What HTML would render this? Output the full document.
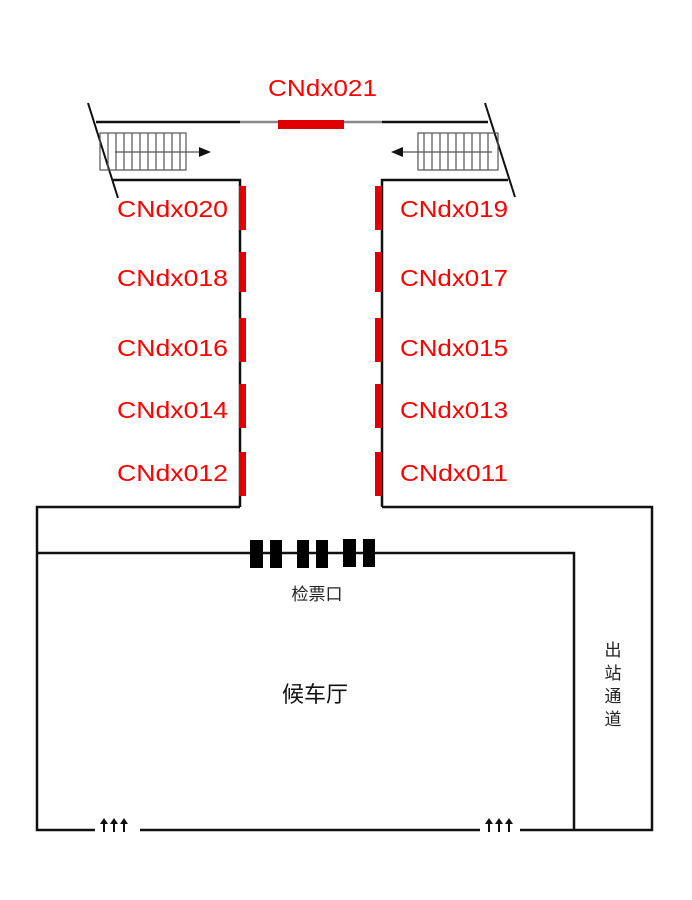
<!DOCTYPE html>
<html><head><meta charset="utf-8"><style>body{margin:0;background:#fff}svg{display:block}</style></head><body>
<svg width="692" height="900" viewBox="0 0 692 900" xmlns="http://www.w3.org/2000/svg" font-family="Liberation Sans, Noto Sans CJK SC, sans-serif">
<g stroke="#111" stroke-width="2.5" fill="none">
<line x1="96" y1="122" x2="240" y2="122"/>
<line x1="240" y1="122" x2="382" y2="122" stroke="#888"/>
<line x1="382" y1="122" x2="488" y2="122"/>
<line x1="88" y1="103" x2="118" y2="198" stroke-width="2"/>
<line x1="485" y1="103" x2="515" y2="197" stroke-width="2"/>
<polyline points="113,180 240,180 240,507"/>
<polyline points="508,180 382,180 382,507"/>
<polyline points="240,507 37,507 37,830 95,830"/>
<polyline points="382,507 652,507 652,830 520,830"/>
<line x1="140" y1="830" x2="480" y2="830"/>
<polyline points="37,553 574,553 574,830"/>
</g>
<g stroke="#555" stroke-width="1.2" fill="none">
<rect x="100" y="133" width="86" height="37"/>
<rect x="418" y="133" width="80" height="37"/>
</g>
<g stroke="#555" stroke-width="1.2">
<line x1="108" y1="133" x2="108" y2="170"/><line x1="116" y1="133" x2="116" y2="170"/><line x1="124" y1="133" x2="124" y2="170"/><line x1="132" y1="133" x2="132" y2="170"/><line x1="140" y1="133" x2="140" y2="170"/><line x1="148" y1="133" x2="148" y2="170"/><line x1="156" y1="133" x2="156" y2="170"/><line x1="164" y1="133" x2="164" y2="170"/><line x1="172" y1="133" x2="172" y2="170"/><line x1="180" y1="133" x2="180" y2="170"/>
<line x1="424" y1="133" x2="424" y2="170"/><line x1="432" y1="133" x2="432" y2="170"/><line x1="440" y1="133" x2="440" y2="170"/><line x1="448" y1="133" x2="448" y2="170"/><line x1="456" y1="133" x2="456" y2="170"/><line x1="464" y1="133" x2="464" y2="170"/><line x1="472" y1="133" x2="472" y2="170"/><line x1="480" y1="133" x2="480" y2="170"/><line x1="488" y1="133" x2="488" y2="170"/>
<line x1="115" y1="152" x2="200" y2="152"/>
<line x1="402" y1="152" x2="492" y2="152"/>
</g>
<polygon points="211,152 199,147 199,157" fill="#111"/>
<polygon points="391,152 403,147 403,157" fill="#111"/>
<g fill="#e00000">
<rect x="278" y="120" width="66" height="9"/>
<rect x="239" y="186" width="7" height="44"/><rect x="239" y="252" width="7" height="40"/><rect x="239" y="318" width="7" height="44"/><rect x="239" y="384" width="7" height="44"/><rect x="239" y="452" width="7" height="44"/>
<rect x="375" y="186" width="7" height="44"/><rect x="375" y="252" width="7" height="40"/><rect x="375" y="318" width="7" height="44"/><rect x="375" y="384" width="7" height="44"/><rect x="375" y="452" width="7" height="44"/>
</g>
<g fill="#ff0000" font-size="23">
<text x="268" y="96" textLength="109" lengthAdjust="spacingAndGlyphs">CNdx021</text>
<text x="117" y="217" textLength="111" lengthAdjust="spacingAndGlyphs">CNdx020</text><text x="117" y="286" textLength="111" lengthAdjust="spacingAndGlyphs">CNdx018</text><text x="117" y="356" textLength="111" lengthAdjust="spacingAndGlyphs">CNdx016</text><text x="117" y="418" textLength="111" lengthAdjust="spacingAndGlyphs">CNdx014</text><text x="117" y="481" textLength="111" lengthAdjust="spacingAndGlyphs">CNdx012</text>
<text x="400" y="217" textLength="108" lengthAdjust="spacingAndGlyphs">CNdx019</text><text x="400" y="286" textLength="108" lengthAdjust="spacingAndGlyphs">CNdx017</text><text x="400" y="356" textLength="108" lengthAdjust="spacingAndGlyphs">CNdx015</text><text x="400" y="418" textLength="108" lengthAdjust="spacingAndGlyphs">CNdx013</text><text x="400" y="481" textLength="108" lengthAdjust="spacingAndGlyphs">CNdx011</text>
</g>
<g fill="#000">
<rect x="250" y="540" width="13" height="28"/><rect x="270" y="540" width="12" height="28"/><rect x="297" y="540" width="12" height="28"/><rect x="316" y="540" width="12" height="28"/><rect x="343" y="539" width="13" height="28"/><rect x="363" y="539" width="12" height="28"/>
</g>
<g stroke="#111" stroke-width="2">
<line x1="104" y1="822" x2="104" y2="832"/><line x1="114" y1="822" x2="114" y2="832"/><line x1="124" y1="822" x2="124" y2="832"/>
<line x1="489" y1="822" x2="489" y2="832"/><line x1="499" y1="822" x2="499" y2="832"/><line x1="509" y1="822" x2="509" y2="832"/>
</g>
<g fill="#111">
<polygon points="104,818 100,824 108,824"/><polygon points="114,818 110,824 118,824"/><polygon points="124,818 120,824 128,824"/>
<polygon points="489,818 485,824 493,824"/><polygon points="499,818 495,824 503,824"/><polygon points="509,818 505,824 513,824"/>
</g>
<text x="317" y="600" font-size="17" text-anchor="middle" fill="#222">检票口</text>
<text x="315" y="702" font-size="22" text-anchor="middle" fill="#111">候车厅</text>
<g font-size="17" fill="#222" text-anchor="middle">
<text x="613" y="656">出</text><text x="613" y="679">站</text><text x="613" y="702">通</text><text x="613" y="725">道</text>
</g>
</svg>
</body></html>
